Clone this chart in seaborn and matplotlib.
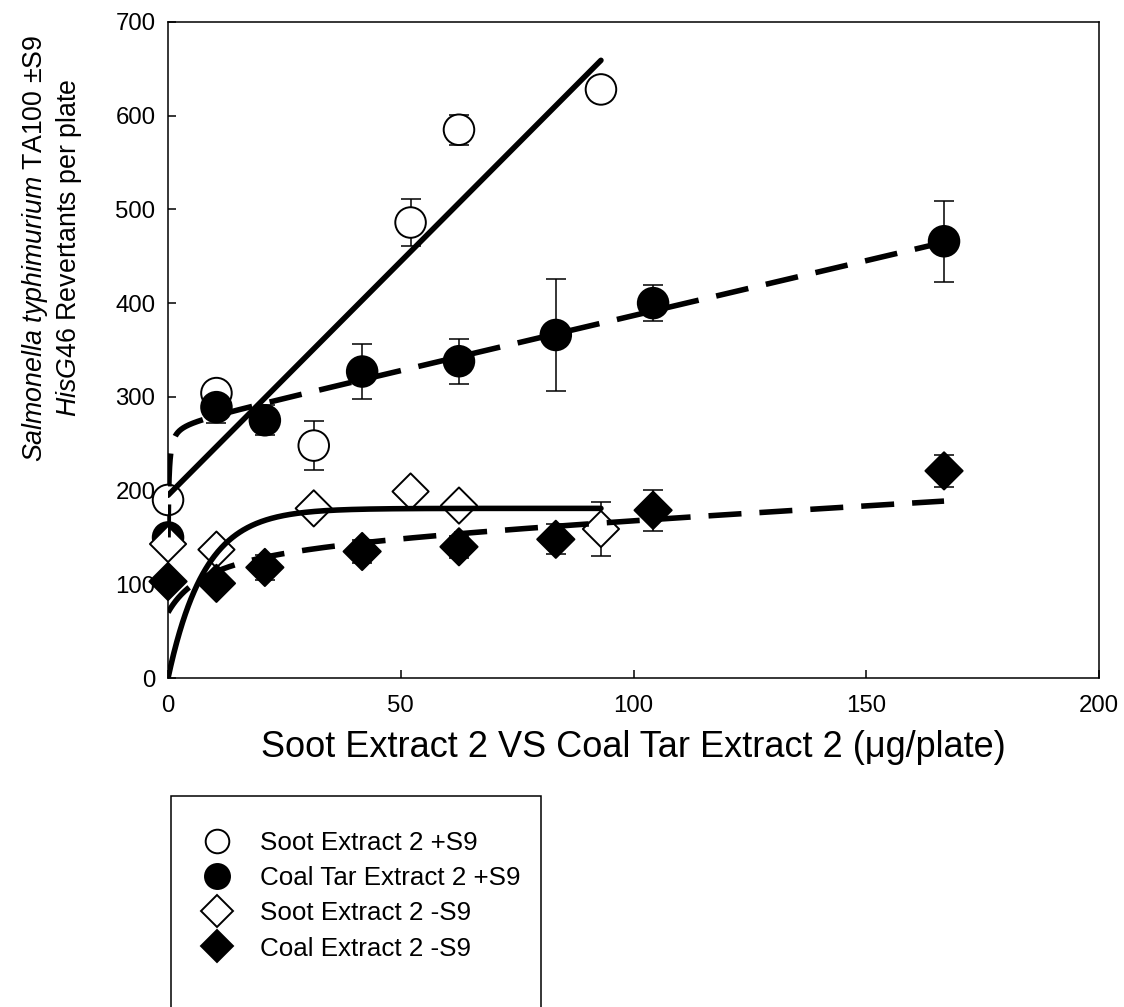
import numpy as np
import pandas as pd
import matplotlib
matplotlib.use("Agg")
import matplotlib.pyplot as plt
from matplotlib.lines import Line2D
from matplotlib.patches import Rectangle
import seaborn as sns

# Dose (ug/plate), mean revertants per plate and SD for each extract/activation
soot_s9_dose = [0, 10.4, 31.3, 52.1, 62.5, 93.0]
soot_s9_mean = [190, 304, 248, 486, 585, 628]
soot_s9_sd = [8, 8, 26, 25, 16, 8]

coal_s9_dose = [0, 10.4, 20.8, 41.7, 62.5, 83.3, 104.2, 166.7]
coal_s9_mean = [150, 289, 275, 327, 338, 366, 400, 466]
coal_s9_sd = [10, 17, 16, 29, 24, 60, 19, 43]

soot_nos9_dose = [0, 10.4, 31.3, 52.1, 62.5, 93.0]
soot_nos9_mean = [143, 137, 181, 199, 184, 159]
soot_nos9_sd = [5, 5, 5, 5, 5, 29]

coal_nos9_dose = [0, 10.4, 20.8, 41.7, 62.5, 83.3, 104.2, 166.7]
coal_nos9_mean = [103, 101, 118, 135, 140, 148, 179, 221]
coal_nos9_sd = [8, 8, 13, 12, 12, 16, 22, 17]

series_labels = ["Soot Extract 2 +S9", "Coal Tar Extract 2 +S9",
                 "Soot Extract 2 -S9", "Coal Extract 2 -S9"]

x_ticks = [0, 50, 100, 150, 200]
y_ticks = [0, 100, 200, 300, 400, 500, 600, 700]

# Regression fits
soot_s9_fit = (195.0, 4.99)                # intercept, slope
coal_s9_fit = (150.0, 120.0, 0.2, 1.17)    # y0 + a*x/(b+x) + c*x
soot_nos9_fit = (181.0, 7.85)              # ymax*(1-exp(-x/tau))
coal_nos9_fit = (70.0, 76.0, 9.0, 0.28)    # y0 + a*x/(b+x) + c*x

sns.set_theme(style="ticks")
plt.rcParams["font.family"] = ["Liberation Sans", "DejaVu Sans"]
plt.rcParams["mathtext.fontset"] = "custom"
plt.rcParams["mathtext.rm"] = "Liberation Sans"
plt.rcParams["mathtext.it"] = "Liberation Sans:italic"
for key in ["text.color", "axes.labelcolor", "xtick.color", "ytick.color",
            "axes.edgecolor"]:
    plt.rcParams[key] = "black"

groups = [
    (series_labels[0], soot_s9_dose, soot_s9_mean, soot_s9_sd),
    (series_labels[1], coal_s9_dose, coal_s9_mean, coal_s9_sd),
    (series_labels[2], soot_nos9_dose, soot_nos9_mean, soot_nos9_sd),
    (series_labels[3], coal_nos9_dose, coal_nos9_mean, coal_nos9_sd),
]
df = pd.concat([
    pd.DataFrame({"series": name, "dose": d, "revertants": m, "sd": s})
    for name, d, m, s in groups
], ignore_index=True)

face = {series_labels[0]: "white", series_labels[1]: "black",
        series_labels[2]: "white", series_labels[3]: "black"}
shape = {series_labels[0]: "o", series_labels[1]: "o",
         series_labels[2]: "D", series_labels[3]: "D"}
area = {series_labels[0]: 484, series_labels[1]: 484,
        series_labels[2]: 340, series_labels[3]: 360}

fig = plt.figure(figsize=(11.24, 10.07), dpi=100)
ax = fig.add_axes([0.1495, 0.3267, 0.8283, 0.6515])

for name, d, m, s in groups:
    ax.errorbar(d, m, yerr=s, fmt="none", ecolor="black", elinewidth=1.1,
                capsize=7, capthick=1.1, zorder=2)

sns.scatterplot(data=df, x="dose", y="revertants", hue="series", style="series",
                size="series", palette=face, markers=shape, sizes=area,
                edgecolor="black", linewidth=1.4, legend=False, zorder=3,
                clip_on=False, ax=ax)

# Fitted curves
x_short = np.linspace(0, 93.0, 600)
x_long = np.linspace(0, 166.7, 3000)
b0, b1 = soot_s9_fit
y_soot_s9 = b0 + b1 * x_short
y0, a, b, c = coal_s9_fit
y_coal_s9 = y0 + a * x_long / (b + x_long) + c * x_long
ymax, tau = soot_nos9_fit
y_soot_nos9 = ymax * (1 - np.exp(-x_short / tau))
y0, a, b, c = coal_nos9_fit
y_coal_nos9 = y0 + a * x_long / (b + x_long) + c * x_long

dash = (0, (5.94, 3.24))
for xs, ys, ls in [(x_short, y_soot_s9, "-"), (x_long, y_coal_s9, dash),
                   (x_short, y_soot_nos9, "-"), (x_long, y_coal_nos9, dash)]:
    sns.lineplot(x=xs, y=ys, color="black", lw=4.0, linestyle=ls,
                 estimator=None, sort=False, zorder=4, ax=ax)

ax.set_xlim(0, 200)
ax.set_ylim(0, 700)
ax.set_xticks(x_ticks)
ax.set_yticks(y_ticks)
ax.tick_params(axis="both", direction="in", length=5.8, width=1.1,
               labelsize=17.3, colors="black", top=False, right=False)
ax.tick_params(axis="x", pad=12)
ax.tick_params(axis="y", pad=9)
for sp in ax.spines.values():
    sp.set_visible(True)
    sp.set_linewidth(1.1)
    sp.set_color("black")

ax.set_xlabel("Soot Extract 2 VS Coal Tar Extract 2 (\u03bcg/plate)", fontsize=26,
              color="black")
ax.xaxis.set_label_coords(0.5, -0.079)
ax.set_ylabel("$\\mathit{Salmonella\\ typhimurium}$ TA100 \u00b1S9\n"
              "$\\mathit{HisG46}$ Revertants per plate",
              fontsize=19.3, multialignment="center", color="black")
ax.yaxis.set_label_coords(-0.09, 0.655)

handles = [
    Line2D([], [], ls="none", marker="o", ms=17.0, mfc="white", mec="black", mew=1.4),
    Line2D([], [], ls="none", marker="o", ms=18.0, mfc="black", mec="black", mew=1.4),
    Line2D([], [], ls="none", marker="D", ms=16.5, mfc="white", mec="black", mew=1.4),
    Line2D([], [], ls="none", marker="D", ms=16.5, mfc="black", mec="black", mew=1.4),
]
fig.legend(handles, series_labels, loc="upper left",
           bbox_to_anchor=(196.5 / 1124, 1 - 831 / 1007),
           frameon=False, fontsize=18.7, borderpad=0, borderaxespad=0,
           handlelength=1.6, handletextpad=0.86, labelspacing=0.43,
           labelcolor="black")

fig.patches.append(Rectangle((171 / 1124, -0.05), 370 / 1124, (1007 - 796) / 1007 + 0.05,
                             transform=fig.transFigure, fill=False,
                             edgecolor="black", lw=1.1))

fig.savefig("out.png", dpi=100)
